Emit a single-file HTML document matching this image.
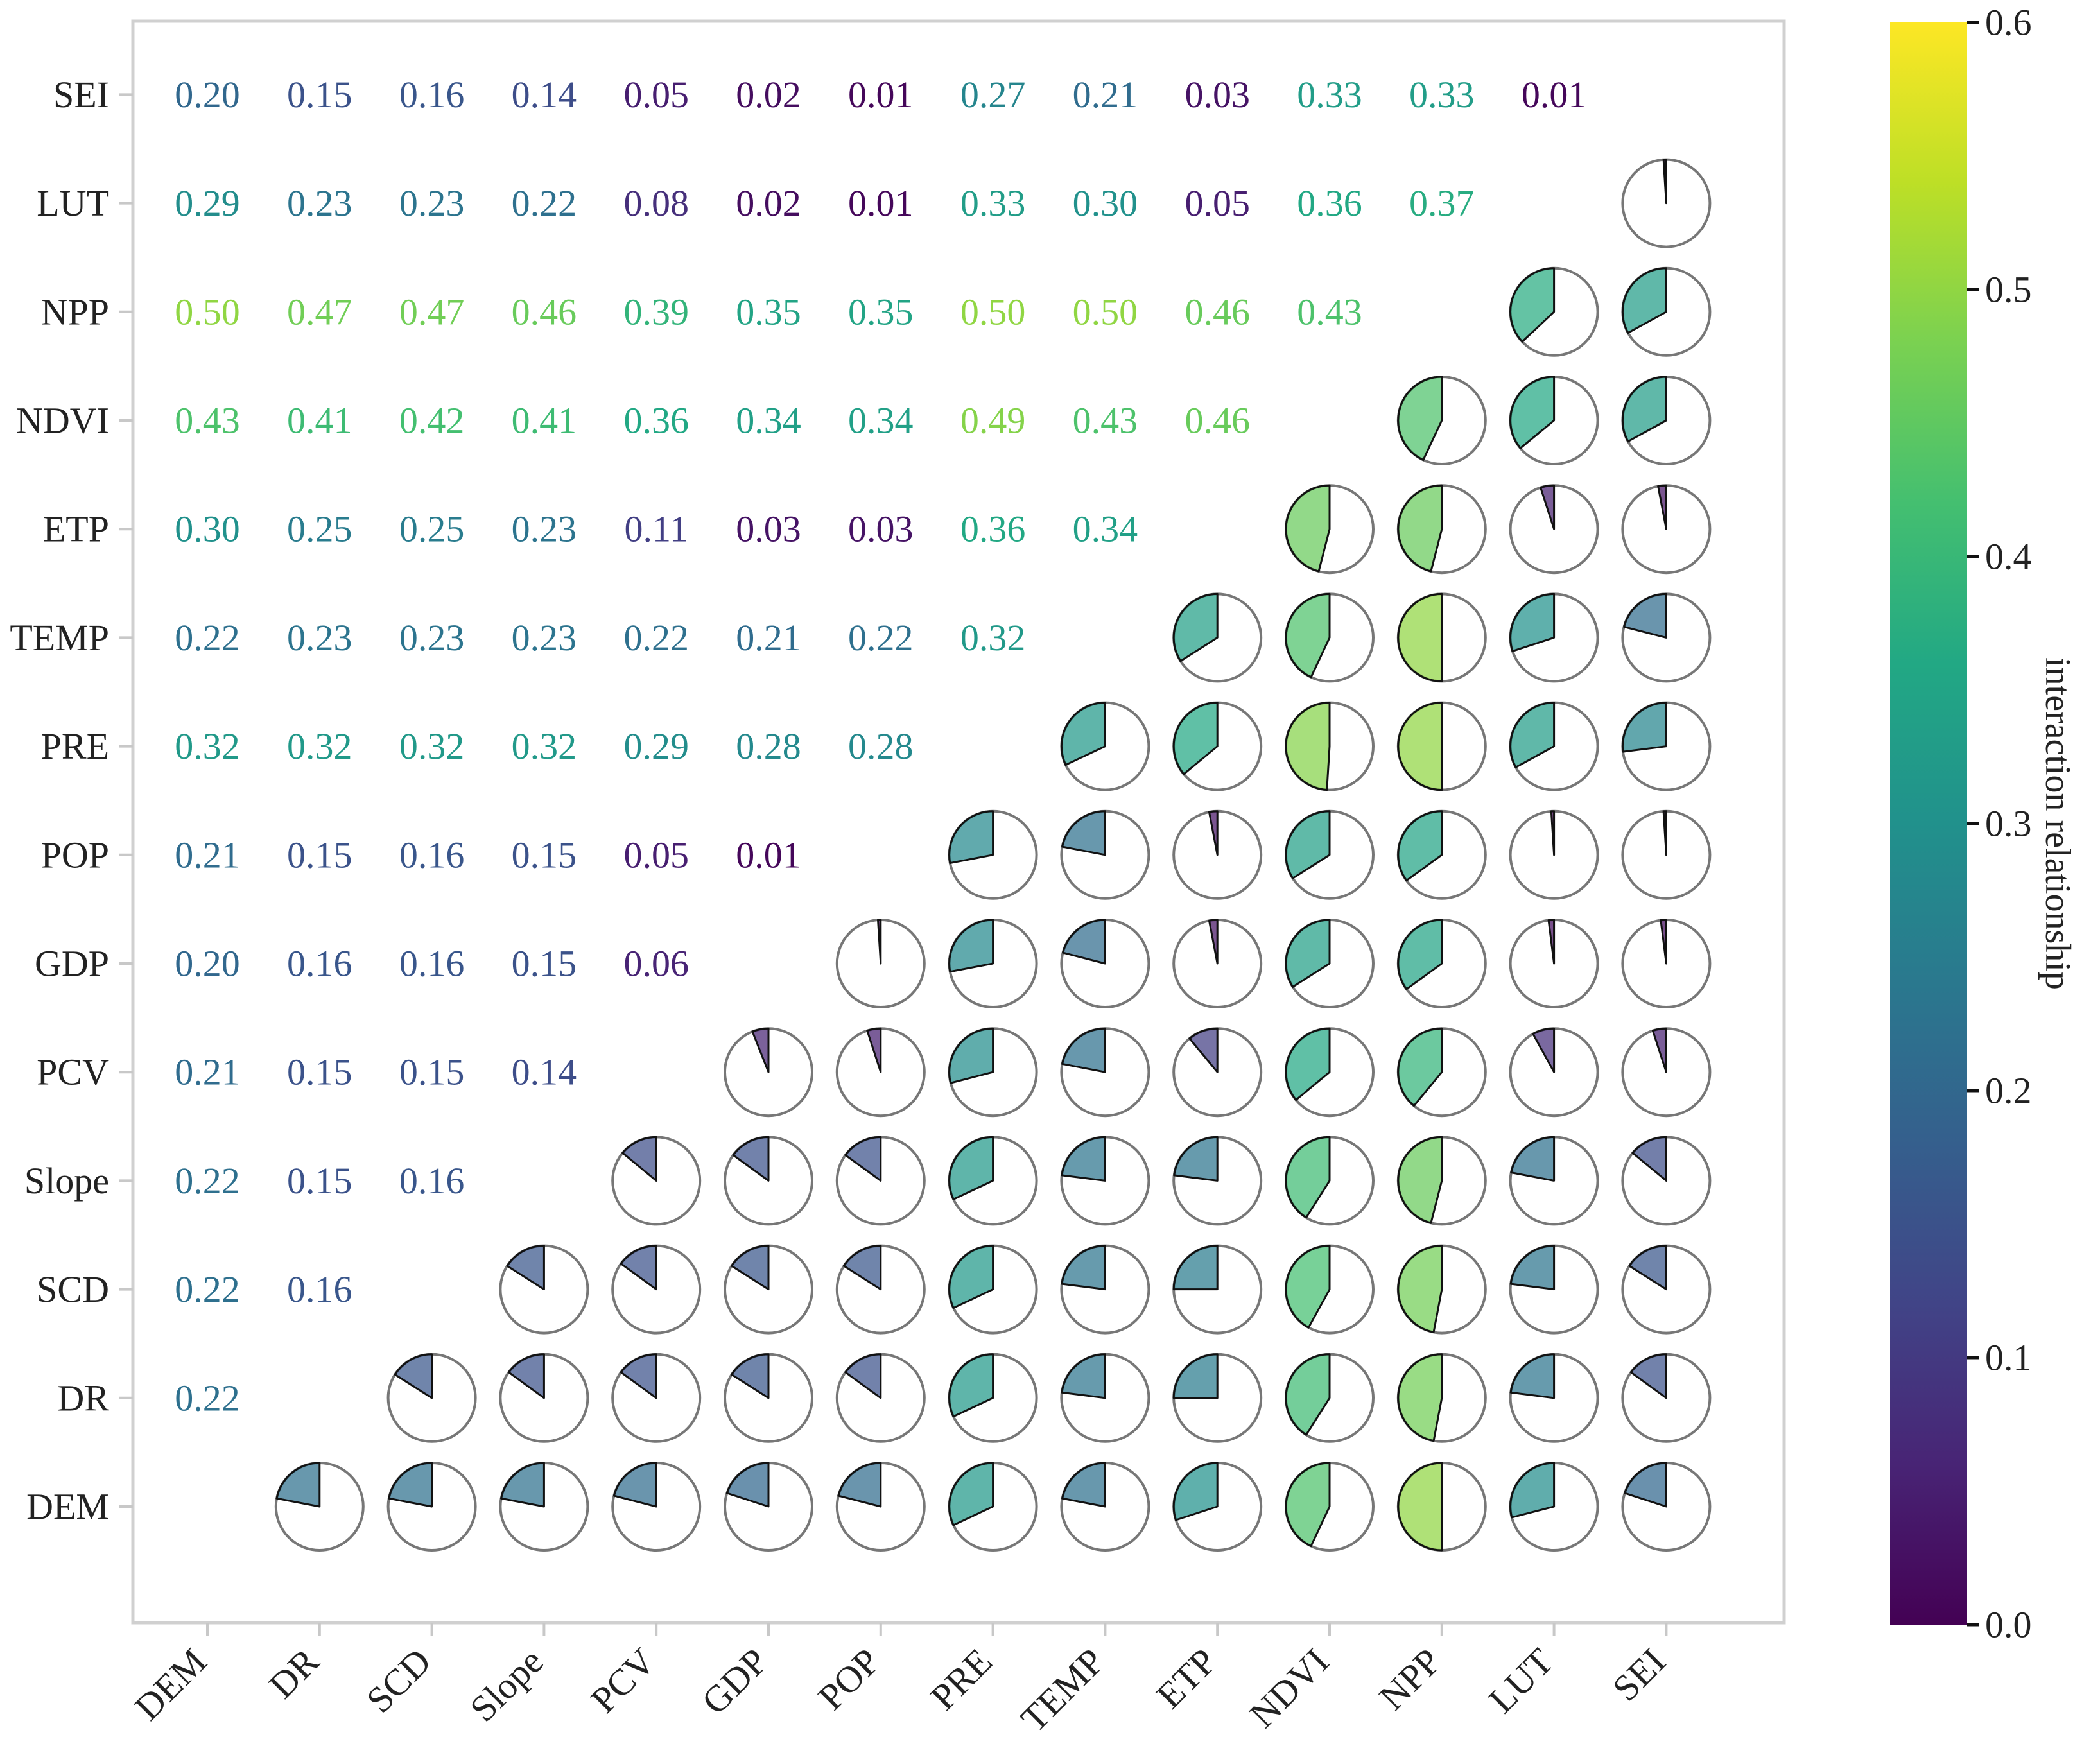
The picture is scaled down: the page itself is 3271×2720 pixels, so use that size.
<!DOCTYPE html>
<html><head><meta charset="utf-8"><style>
html,body{margin:0;padding:0;background:#fff;}
svg{display:block;font-family:"Liberation Serif","DejaVu Serif",serif;}
</style></head><body>
<svg id="chart" width="3271" height="2720" viewBox="0 0 3271 2720" xmlns="http://www.w3.org/2000/svg">
<defs>
<linearGradient id="vir" x1="0" y1="1" x2="0" y2="0">
<stop offset="0" stop-color="#440154"/><stop offset="0.1" stop-color="#482475"/><stop offset="0.2" stop-color="#414487"/><stop offset="0.3" stop-color="#355f8d"/><stop offset="0.4" stop-color="#2a788e"/><stop offset="0.5" stop-color="#21918c"/><stop offset="0.6" stop-color="#22a884"/><stop offset="0.7" stop-color="#44bf70"/><stop offset="0.8" stop-color="#7ad151"/><stop offset="0.9" stop-color="#bddf26"/><stop offset="1" stop-color="#fde725"/>
</linearGradient>
</defs>
<rect x="207" y="33" width="2572" height="2495" fill="#fff" stroke="#d0d0d0" stroke-width="5"/>
<g id="g"></g>
<rect x="2944" y="35" width="120" height="2496" fill="url(#vir)"/>
<text transform="translate(3205,1283) rotate(90)" text-anchor="middle" dominant-baseline="central" font-size="56" fill="#222">interaction relationship</text>
</svg>
<script>
const labels = ["DEM","DR","SCD","Slope","PCV","GDP","POP","PRE","TEMP","ETP","NDVI","NPP","LUT","SEI"];
const rowDR = [0.22];
const rowSCD = [0.22,0.16];
const rowSlope = [0.22,0.15,0.16];
const rowPCV = [0.21,0.15,0.15,0.14];
const rowGDP = [0.20,0.16,0.16,0.15,0.06];
const rowPOP = [0.21,0.15,0.16,0.15,0.05,0.01];
const rowPRE = [0.32,0.32,0.32,0.32,0.29,0.28,0.28];
const rowTEMP = [0.22,0.23,0.23,0.23,0.22,0.21,0.22,0.32];
const rowETP = [0.30,0.25,0.25,0.23,0.11,0.03,0.03,0.36,0.34];
const rowNDVI = [0.43,0.41,0.42,0.41,0.36,0.34,0.34,0.49,0.43,0.46];
const rowNPP = [0.50,0.47,0.47,0.46,0.39,0.35,0.35,0.50,0.50,0.46,0.43];
const rowLUT = [0.29,0.23,0.23,0.22,0.08,0.02,0.01,0.33,0.30,0.05,0.36,0.37];
const rowSEI = [0.20,0.15,0.16,0.14,0.05,0.02,0.01,0.27,0.21,0.03,0.33,0.33,0.01];
const cbTicks = [0.0,0.1,0.2,0.3,0.4,0.5,0.6];
const rows = [[],rowDR,rowSCD,rowSlope,rowPCV,rowGDP,rowPOP,rowPRE,rowTEMP,rowETP,rowNDVI,rowNPP,rowLUT,rowSEI];
const vmax = 0.6;
const NS="http://www.w3.org/2000/svg";
const g=document.getElementById('g');
const svg=document.getElementById('chart');
const X0=323, DX=174.8, Y0=2347, DY=169.2, R=68;
const xp=i=>X0+i*DX, yp=i=>Y0-i*DY;
const cbY=v=>2531-(v/vmax)*2496;
const stops=["#440154","#482475","#414487","#355f8d","#2a788e","#21918c","#22a884","#44bf70","#7ad151","#bddf26","#fde725"];
function hx(h){return [1,3,5].map(k=>parseInt(h.substr(k,2),16));}
function vir(t){t=Math.max(0,Math.min(1,t));const p=t*10,i=Math.min(9,Math.floor(p)),f=p-i;const a=hx(stops[i]),b=hx(stops[i+1]);return 'rgb('+a.map((c,k)=>Math.round(c+(b[k]-c)*f)).join(',')+')';}
function el(tag,attrs,parent){const e=document.createElementNS(NS,tag);for(const k in attrs)e.setAttribute(k,attrs[k]);(parent||g).appendChild(e);return e;}
labels.forEach((lab,i)=>{
  let t=el('line',{x1:186,x2:207,y1:yp(i),y2:yp(i),stroke:'#c8c8c8','stroke-width':4});
  
  
  let tx=el('text',{x:170,y:yp(i),'text-anchor':'end','dominant-baseline':'central','font-size':58,fill:'#222'});
  tx.textContent=lab;
  
  
  let t2=el('line',{x1:xp(i),x2:xp(i),y1:2528,y2:2548,stroke:'#c8c8c8','stroke-width':4});
  
  
  let tx2=el('text',{transform:'translate('+(xp(i)+2)+',2592) rotate(-45)','text-anchor':'end','font-size':58,fill:'#222'});
  tx2.textContent=lab;
  
  
});
for(let r=1;r<rows.length;r++){
  rows[r].forEach((v,c)=>{
    let t=el('text',{x:xp(c),y:yp(r),'text-anchor':'middle','dominant-baseline':'central','font-size':58,fill:vir(v/vmax)});
    t.textContent=v.toFixed(2);
    
    
    const cx=xp(r), cy=yp(c);
    let circ=el('circle',{cx:cx,cy:cy,r:R,fill:'#fff',stroke:'#777','stroke-width':4});
    
    
    const th=v*2*Math.PI;
    const ex=cx-R*Math.sin(th), ey=cy-R*Math.cos(th);
    const large=th>Math.PI?1:0;
    let p=el('path',{d:'M'+cx+' '+cy+' L'+cx+' '+(cy-R)+' A'+R+' '+R+' 0 '+large+' 0 '+ex.toFixed(2)+' '+ey.toFixed(2)+' Z',fill:vir(v/vmax),'fill-opacity':0.72,stroke:'#111','stroke-width':3,'stroke-linejoin':'round'});
    
    
  });
}
cbTicks.forEach(v=>{
  let l=el('line',{x1:3064,x2:3082,y1:cbY(v),y2:cbY(v),stroke:'#111','stroke-width':5},svg);
  
  
  let t=el('text',{x:3092,y:cbY(v),'dominant-baseline':'central','font-size':58,fill:'#222'},svg);
  t.textContent=v.toFixed(1);
  
  
});
</script>
</body></html>
